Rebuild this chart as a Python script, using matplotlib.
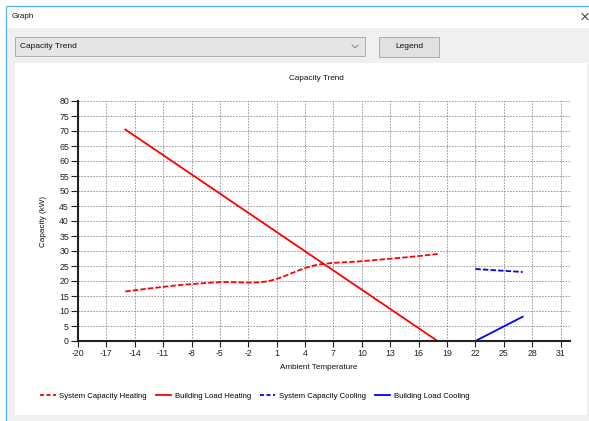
import matplotlib
matplotlib.use("Agg")
import matplotlib.pyplot as plt
from matplotlib.patches import Rectangle, PathPatch
from matplotlib.path import Path
from matplotlib.lines import Line2D

# ---------------- data ----------------
heat_cap_temp = [-15, -10, -5, 0, 5, 10, 15, 18]
heat_cap_kw = [16.5, 18.4, 19.6, 19.9, 25.2, 26.6, 28.0, 29.0]
heat_load_temp = [-15, 18]
heat_load_kw = [70.5, 0.0]
cool_cap_temp = [22, 27]
cool_cap_kw = [24.0, 23.0]
cool_load_temp = [22, 27]
cool_load_kw = [0.0, 8.1]
x_ticks = list(range(-20, 32, 3))
y_ticks = list(range(0, 81, 5))
series_names = ["System Capacity Heating", "Building Load Heating",
                "System Capacity Cooling", "Building Load Cooling"]

W, H = 589, 421
plt.rcParams['font.family'] = ['Liberation Sans', 'DejaVu Sans']
plt.rcParams['axes.unicode_minus'] = False
fig = plt.figure(figsize=(W / 100, H / 100), dpi=100)

# ---------------- window chrome ----------------
bg = fig.add_axes([0, 0, 1, 1], zorder=-10)
bg.set_xlim(0, W)
bg.set_ylim(H, 0)
bg.axis('off')
bg.add_patch(Rectangle((0, 0), W, H, facecolor='white', edgecolor='none'))
bg.add_patch(Rectangle((6, 28), W - 6, H - 28, facecolor='#f0f0f0', edgecolor='none'))
bg.plot([6, W], [6, 6], color='#55b0ea', lw=0.9, solid_capstyle='butt')
bg.plot([6, 6], [6, H], color='#55b0ea', lw=0.9, solid_capstyle='butt')
bg.text(12, 17, "Graph", fontsize=5.8, va='center', ha='left', color='#111')
bg.plot([582, 588], [13.5, 19.5], color='#333', lw=0.7)
bg.plot([582, 588], [19.5, 13.5], color='#333', lw=0.7)
# combobox
bg.add_patch(Rectangle((15, 37), 350, 19, facecolor='#e5e5e5', edgecolor='#adadad', lw=0.7))
bg.text(20, 46.5, "Capacity Trend", fontsize=6, va='center', ha='left', color='#111')
bg.plot([352, 355, 358], [45, 48, 45], color='#777', lw=0.6)
# button
bg.add_patch(Rectangle((379, 37), 60, 20, facecolor='#e1e1e1', edgecolor='#adadad', lw=0.7))
bg.text(409, 47, "Legend", fontsize=6, va='center', ha='center', color='#111')
# chart panel
bg.add_patch(Rectangle((15, 63), 572, 352, facecolor='white', edgecolor='none'))

# ---------------- chart ----------------
L, R, T, B = 78, 570, 101, 341
ax = fig.add_axes([L / W, (H - B) / H, (R - L) / W, (B - T) / H])
ax.set_facecolor('none')
ax.set_xlim(-20, 32)
ax.set_ylim(0, 80)
ax.set_xticks(x_ticks)
ax.set_yticks(y_ticks)
ax.grid(True, color='#8f8f8f', lw=0.6, ls=(0, (2, 1.5)))
ax.set_axisbelow(True)
for s in ('top', 'right'):
    ax.spines[s].set_visible(False)
for s in ('left', 'bottom'):
    ax.spines[s].set_color('#222')
    ax.spines[s].set_linewidth(1.5)
ax.tick_params(axis='both', labelsize=6.3, colors='#222', width=0.8, direction='out')
ax.tick_params(axis='x', length=4, pad=1.5)
ax.tick_params(axis='y', length=5, pad=1.5)

ax.set_title("Capacity Trend", fontsize=5.9, pad=15, color='#111', x=0.484)
ax.set_xlabel("Ambient Temperature", fontsize=5.9, labelpad=4.5, color='#111', x=0.49)
ax.set_ylabel("Capacity (kW)", fontsize=5.9, labelpad=9, color='#111')

red, blue = '#ff0000', '#0000ff'
dash = (0, (3, 1.2))
lw = 1.3


def spline_path(xs, ys):
    """Catmull-Rom spline expressed as cubic Bezier segments."""
    n = len(xs)
    verts = [(xs[0], ys[0])]
    codes = [Path.MOVETO]
    for i in range(n - 1):
        x0, y0 = (xs[i - 1], ys[i - 1]) if i > 0 else (xs[i], ys[i])
        x1, y1 = xs[i], ys[i]
        x2, y2 = xs[i + 1], ys[i + 1]
        x3, y3 = (xs[i + 2], ys[i + 2]) if i + 2 < n else (x2, y2)
        c1 = (x1 + (x2 - x0) / 6, y1 + (y2 - y0) / 6)
        c2 = (x2 - (x3 - x1) / 6, y2 - (y3 - y1) / 6)
        verts += [c1, c2, (x2, y2)]
        codes += [Path.CURVE4] * 3
    return Path(verts, codes)


ax.add_patch(PathPatch(spline_path(heat_cap_temp, heat_cap_kw), facecolor='none',
                       edgecolor=red, lw=lw, ls=dash, clip_on=False))
ax.plot(heat_load_temp, heat_load_kw, color=red, lw=lw)
ax.plot(cool_cap_temp, cool_cap_kw, color=blue, lw=lw, ls=dash)
ax.plot(cool_load_temp, cool_load_kw, color=blue, lw=lw)

handles = [Line2D([], [], color=red, lw=lw, ls=(0, (2.2, 1.4))),
           Line2D([], [], color=red, lw=lw),
           Line2D([], [], color=blue, lw=lw, ls=(0, (2.2, 1.4))),
           Line2D([], [], color=blue, lw=lw)]
fig.legend(handles, series_names, loc='center left', bbox_to_anchor=(40 / W, 1 - 396 / H),
           ncol=4, frameon=False, fontsize=5.6, handlelength=2.0, handletextpad=0.5,
           columnspacing=1.1, borderaxespad=0, borderpad=0)

fig.savefig("out.png", dpi=100)
